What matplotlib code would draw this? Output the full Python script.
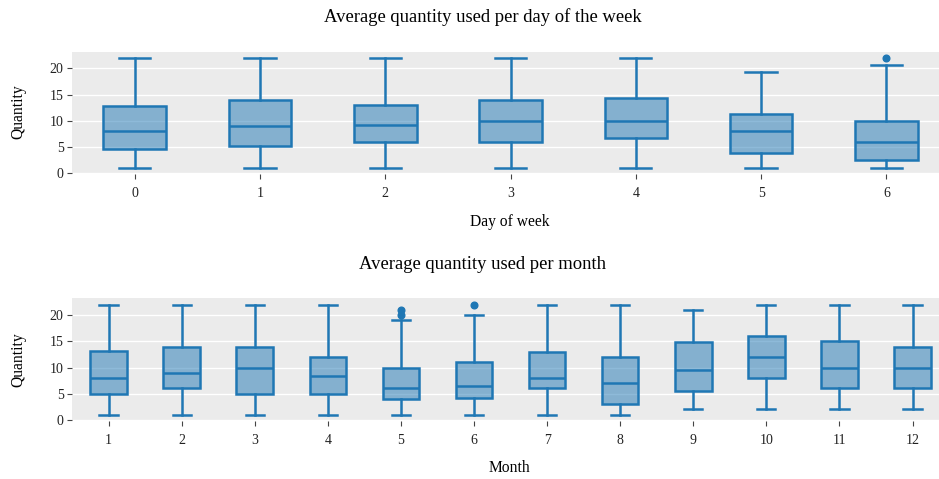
import matplotlib
matplotlib.use('Agg')
import matplotlib.pyplot as plt

# 数据（从图上读出的箱线图统计量）
days = [0, 1, 2, 3, 4, 5, 6]
day_whislo = [1, 1, 1, 1, 1, 1, 1]
day_q1 = [4.6, 5.2, 6, 6, 6.6, 3.9, 2.4]
day_med = [8, 9, 9.2, 10, 10, 8, 6]
day_q3 = [12.9, 14, 13, 14, 14.3, 11.2, 10]
day_whishi = [22, 22, 22, 22, 22, 19.3, 20.7]
day_fliers = [[], [], [], [], [], [], [22]]

months = [1, 2, 3, 4, 5, 6, 7, 8, 9, 10, 11, 12]
mon_whislo = [1, 1, 1, 1, 1, 1, 1, 1, 2, 2, 2, 2]
mon_q1 = [5, 6, 5, 5, 4, 4.1, 6, 3, 5.5, 8, 6, 6]
mon_med = [8, 9, 10, 8.4, 6, 6.5, 8, 7, 9.5, 12, 10, 10]
mon_q3 = [13.2, 14, 14, 12, 10, 11, 13, 12, 14.8, 16, 15.1, 14]
mon_whishi = [22, 22, 22, 22, 19, 20, 22, 22, 21, 22, 22, 22]
mon_fliers = [[], [], [], [], [20, 21], [22], [], [], [], [], [], []]

blue = '#1f77b4'
bg = '#ebebeb'
serif = ['Liberation Serif', 'DejaVu Serif']
plt.rcParams['font.family'] = serif

fig = plt.figure(figsize=(9.39, 4.79), dpi=100)
ax1 = fig.add_axes([0.0767, 0.6367, 0.934, 0.2553])
ax2 = fig.add_axes([0.0767, 0.1217, 0.934, 0.2555])


def draw(ax, cats, lo, q1, med, q3, hi, fl):
    stats = []
    for i in range(len(cats)):
        stats.append({'whislo': lo[i], 'q1': q1[i], 'med': med[i], 'q3': q3[i],
                      'whishi': hi[i], 'fliers': fl[i], 'label': str(cats[i])})
    ax.bxp(stats, positions=range(len(cats)), widths=0.5, capwidths=0.25,
           patch_artist=True, showfliers=True,
           boxprops=dict(facecolor=(0.122, 0.467, 0.706, 0.5), edgecolor=blue, linewidth=1.8),
           medianprops=dict(color=blue, linewidth=1.8),
           whiskerprops=dict(color=blue, linewidth=1.8),
           capprops=dict(color=blue, linewidth=1.8),
           flierprops=dict(marker='o', markerfacecolor=blue, markeredgecolor=blue,
                           markersize=4.8))
    ax.set_facecolor(bg)
    for s in ax.spines.values():
        s.set_visible(False)
    ax.set_xlim(-0.5, len(cats) - 0.5)
    ax.set_yticks([0, 5, 10, 15, 20])
    ax.grid(axis='y', color='white', linewidth=1.0)
    ax.set_axisbelow(True)
    ax.tick_params(axis='both', length=3.5, width=0.8, color='#444444',
                   labelsize=10, labelcolor='#222222', pad=2.5)
    ax.tick_params(axis='x', pad=6)


draw(ax1, days, day_whislo, day_q1, day_med, day_q3, day_whishi, day_fliers)
ax1.set_ylim(-0.2, 23.2)
draw(ax2, months, mon_whislo, mon_q1, mon_med, mon_q3, mon_whishi, mon_fliers)
ax2.set_ylim(-0.15, 23.2)

# 标题和轴标签
fig.text(0.514, 0.9645, 'Average quantity used per day of the week', ha='center', va='center', fontsize=13.4)
fig.text(0.514, 0.4468, 'Average quantity used per month', ha='center', va='center', fontsize=13.4)
fig.text(0.543, 0.5365, 'Day of week', ha='center', va='center', fontsize=11.2)
fig.text(0.543, 0.023, 'Month', ha='center', va='center', fontsize=11.2)
fig.text(0.020, 0.766, 'Quantity', ha='center', va='center', rotation=90, fontsize=11.2)
fig.text(0.020, 0.2495, 'Quantity', ha='center', va='center', rotation=90, fontsize=11.2)

plt.savefig('out.png', dpi=100)
